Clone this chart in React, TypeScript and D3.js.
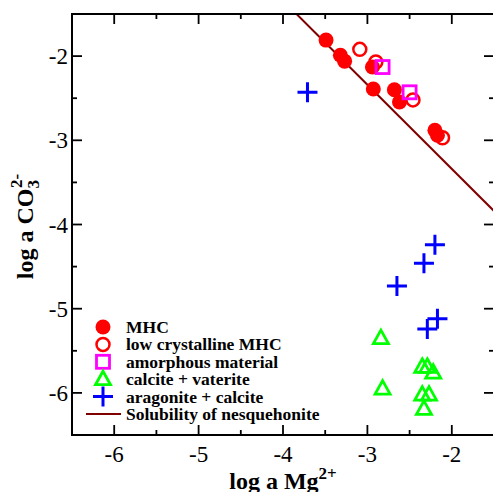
import React from "react";
import * as d3 from "d3";

const mhc = [
  { x: -3.49, y: -1.81 }, { x: -3.32, y: -1.99 }, { x: -3.27, y: -2.06 },
  { x: -2.94, y: -2.13 }, { x: -2.93, y: -2.39 }, { x: -2.68, y: -2.40 },
  { x: -2.62, y: -2.545 }, { x: -2.20, y: -2.88 }, { x: -2.17, y: -2.94 },
];
const lowCryst = [
  { x: -3.09, y: -1.92 }, { x: -2.90, y: -2.07 }, { x: -2.46, y: -2.52 }, { x: -2.11, y: -2.97 },
];
const amorphous = [
  { x: -2.82, y: -2.13 }, { x: -2.50, y: -2.43 },
];
const calciteVaterite = [
  { x: -2.84, y: -5.35 }, { x: -2.82, y: -5.95 }, { x: -2.35, y: -5.69 }, { x: -2.29, y: -5.69 },
  { x: -2.22, y: -5.76 }, { x: -2.35, y: -6.02 }, { x: -2.27, y: -6.02 }, { x: -2.33, y: -6.19 },
];
const aragoniteCalcite = [
  { x: -3.71, y: -2.43 }, { x: -2.20, y: -4.24 }, { x: -2.33, y: -4.46 }, { x: -2.65, y: -4.73 },
  { x: -2.17, y: -5.12 }, { x: -2.29, y: -5.24 },
];
const nesqLine = [
  { x: -3.84, y: -1.5 }, { x: -1.5, y: -3.84 },
];
const xTicks = [-6, -5, -4, -3, -2];
const yTicks = [-2, -3, -4, -5, -6];
const legendLabels = [
  "MHC", "low crystalline MHC", "amorphous material", "calcite + vaterite",
  "aragonite + calcite", "Solubility of nesquehonite",
];

const W = 493, H = 492;
const L = 72, R = 494, T = 14, B = 435;
const FONT = "'Liberation Serif', 'Times New Roman', serif";

export default function App() {
  const x = d3.scaleLinear().domain([-6.5, -1.5]).range([L, R]);
  const y = d3.scaleLinear().domain([-6.5, -1.5]).range([B, T]);
  const line = d3.line<{ x: number; y: number }>().x(d => x(d.x)).y(d => y(d.y));
  const minorX = d3.range(-6.5, -1.4, 0.5);
  const minorY = d3.range(-6.5, -1.4, 0.5);
  const isMajor = (v: number) => Math.abs(v - Math.round(v)) < 1e-6;

  const circle = (cx: number, cy: number, filled: boolean, key: any) =>
    filled ? <circle key={key} cx={cx} cy={cy} r={7.5} fill="#ff0000" />
      : <circle key={key} cx={cx} cy={cy} r={6.5} fill="none" stroke="#ff0000" strokeWidth={2.5} />;
  const square = (cx: number, cy: number, key: any) =>
    <rect key={key} x={cx - 6.5} y={cy - 6.5} width={13} height={13} fill="none" stroke="#ff00ff" strokeWidth={2.8} />;
  const tri = (cx: number, cy: number, key: any) =>
    <path key={key} d={`M${cx},${cy - 8} L${cx + 7.5},${cy + 5.5} L${cx - 7.5},${cy + 5.5} Z`} fill="none" stroke="#00ff00" strokeWidth={2.8} strokeLinejoin="miter" />;
  const cross = (cx: number, cy: number, key: any) =>
    <path key={key} d={`M${cx - 10},${cy} H${cx + 10} M${cx},${cy - 10} V${cy + 10}`} fill="none" stroke="#0000ff" strokeWidth={3} />;

  const legX = 103, legY0 = 327, legDy = 17.4;

  return (
    <svg width={W} height={H} style={{ position: "absolute", left: 0, top: 0, background: "#fff" }} fontFamily={FONT}>
      <defs>
        <clipPath id="plot"><rect x={L} y={T} width={R - L} height={B - T} /></clipPath>
      </defs>
      <g clipPath="url(#plot)">
        <path d={line(nesqLine) || ""} fill="none" stroke="#800000" strokeWidth={2} />
        {lowCryst.map((d, i) => circle(x(d.x), y(d.y), false, "o" + i))}
        {mhc.map((d, i) => circle(x(d.x), y(d.y), true, "f" + i))}
        {amorphous.map((d, i) => square(x(d.x), y(d.y), "s" + i))}
        {calciteVaterite.map((d, i) => tri(x(d.x), y(d.y), "t" + i))}
        {aragoniteCalcite.map((d, i) => cross(x(d.x), y(d.y), "c" + i))}
      </g>
      {/* frame */}
      <rect x={L} y={T} width={R - L} height={B - T} fill="none" stroke="#000" strokeWidth={2} />
      {minorX.map((v, i) => {
        const len = isMajor(v) ? 10 : 5;
        return (
          <g key={"xt" + i} stroke="#000" strokeWidth={1.8}>
            <line x1={x(v)} x2={x(v)} y1={B} y2={B - len} />
            <line x1={x(v)} x2={x(v)} y1={T} y2={T + len} />
          </g>
        );
      })}
      {minorY.map((v, i) => {
        const len = isMajor(v) ? 10 : 5;
        return (
          <g key={"yt" + i} stroke="#000" strokeWidth={1.8}>
            <line x1={L} x2={L + len} y1={y(v)} y2={y(v)} />
            <line x1={R} x2={R - len} y1={y(v)} y2={y(v)} />
          </g>
        );
      })}
      {xTicks.map(v => (
        <text key={"xl" + v} x={x(v)} y={462} textAnchor="middle" fontSize={23}>{v}</text>
      ))}
      {yTicks.map(v => (
        <text key={"yl" + v} x={68} y={y(v) + 8} textAnchor="end" fontSize={23}>{v}</text>
      ))}
      <text x={(L + R) / 2} y={489} textAnchor="middle" fontSize={24} fontWeight="bold">
        log a Mg<tspan dy={-10} fontSize={17}>2+</tspan>
      </text>
      <text transform={`translate(33,${(T + B) / 2 + 2}) rotate(-90)`} textAnchor="middle" fontSize={24} fontWeight="bold">
        log a CO<tspan dy={6} fontSize={17}>3</tspan><tspan dy={-17} dx={-8} fontSize={17}>2-</tspan>
      </text>
      {/* legend */}
      <g>
        {circle(legX, legY0, true, "l0")}
        {circle(legX, legY0 + legDy, false, "l1")}
        {square(legX, legY0 + 2 * legDy, "l2")}
        {tri(legX, legY0 + 3 * legDy, "l3")}
        {cross(legX, legY0 + 4 * legDy, "l4")}
        <line x1={86} x2={121} y1={legY0 + 5 * legDy} y2={legY0 + 5 * legDy} stroke="#800000" strokeWidth={2} />
        {legendLabels.map((t, i) => (
          <text key={"lg" + i} x={126} y={legY0 + i * legDy + 6} fontSize={17.5} fontWeight="bold">{t}</text>
        ))}
      </g>
    </svg>
  );
}
